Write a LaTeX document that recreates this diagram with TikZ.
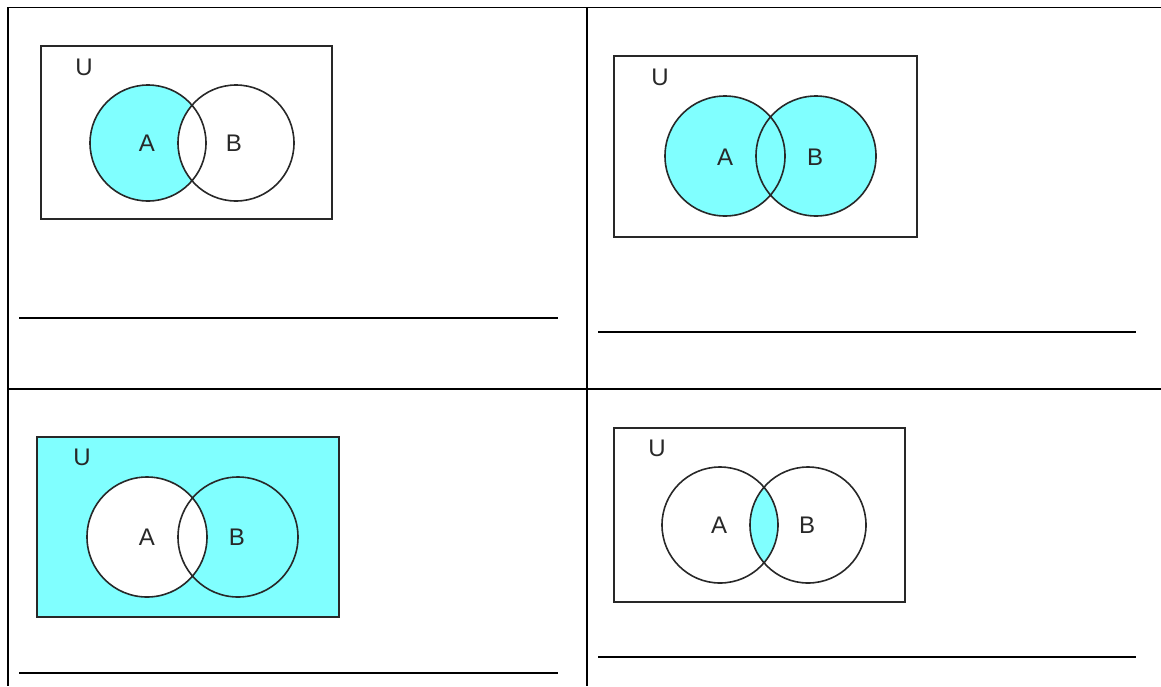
\documentclass[tikz,border=0pt]{standalone}
\usepackage{fontspec}
\setmainfont{Liberation Sans}
\definecolor{venn}{RGB}{128,255,255}
\definecolor{ink}{RGB}{40,40,40}
\begin{document}
\begin{tikzpicture}[x=1pt,y=-1pt,
  grid/.style={line width=1.8pt,black},
  ublock/.style={line width=1.8pt,ink},
  setline/.style={line width=1.6pt,ink},
  lbl/.style={font=\fontsize{24}{24}\selectfont,text=ink,inner sep=0pt},
  answer/.style={line width=1.8pt,black}]
\useasboundingbox (0,0) rectangle (1161,686);
% table
\draw[grid] (1161,7.5) -- (8,7.5) -- (8,686);
\draw[grid] (587,7.5) -- (587,686);
\draw[grid] (8,389) -- (1161,389);

% ---------- panel 1: A minus B
\coordinate (a1) at (148,143);
\coordinate (b1) at (236,143);
\fill[venn] (a1) circle (58);
\fill[white] (b1) circle (58);
\draw[ublock] (41,46) rectangle (332,219);
\draw[setline] (a1) circle (58) (b1) circle (58);
\node[lbl] (u1) at (84,67) {U};
\node[lbl] (la1) at (147,143) {A};
\node[lbl] (lb1) at (234,143) {B};
\coordinate (s1) at (19,318);
\coordinate (e1) at (558,318);
\draw[answer] (s1) -- (e1);

% ---------- panel 2: A union B
\coordinate (a2) at (725,156);
\coordinate (b2) at (816,156);
\fill[venn] (a2) circle (60) (b2) circle (60);
\draw[ublock] (614,56) rectangle (917,237);
\draw[setline] (a2) circle (60) (b2) circle (60);
\node[lbl] (u2) at (660,77) {U};
\node[lbl] (la2) at (725,157) {A};
\node[lbl] (lb2) at (815,157) {B};
\coordinate (s2) at (598,332);
\coordinate (e2) at (1136,332);
\draw[answer] (s2) -- (e2);

% ---------- panel 3: complement of A
\coordinate (a3) at (147,537);
\coordinate (b3) at (238,537);
\fill[venn] (37,437) rectangle (339,617);
\fill[white] (a3) circle (60);
\draw[ublock] (37,437) rectangle (339,617);
\draw[setline] (a3) circle (60) (b3) circle (60);
\node[lbl] (u3) at (82,457) {U};
\node[lbl] (la3) at (147,537) {A};
\node[lbl] (lb3) at (237,537) {B};
\coordinate (s3) at (19,673);
\coordinate (e3) at (558,673);
\draw[answer] (s3) -- (e3);

% ---------- panel 4: A intersect B
\coordinate (a4) at (720,525);
\coordinate (b4) at (808,525);
\begin{scope}
  \clip (a4) circle (58);
  \fill[venn] (b4) circle (58);
\end{scope}
\draw[ublock] (614,428) rectangle (905,602);
\draw[setline] (a4) circle (58) (b4) circle (58);
\node[lbl] (u4) at (657,448) {U};
\node[lbl] (la4) at (719,525) {A};
\node[lbl] (lb4) at (807,525) {B};
\coordinate (s4) at (598,657);
\coordinate (e4) at (1136,657);
\draw[answer] (s4) -- (e4);
\end{tikzpicture}
\end{document}
